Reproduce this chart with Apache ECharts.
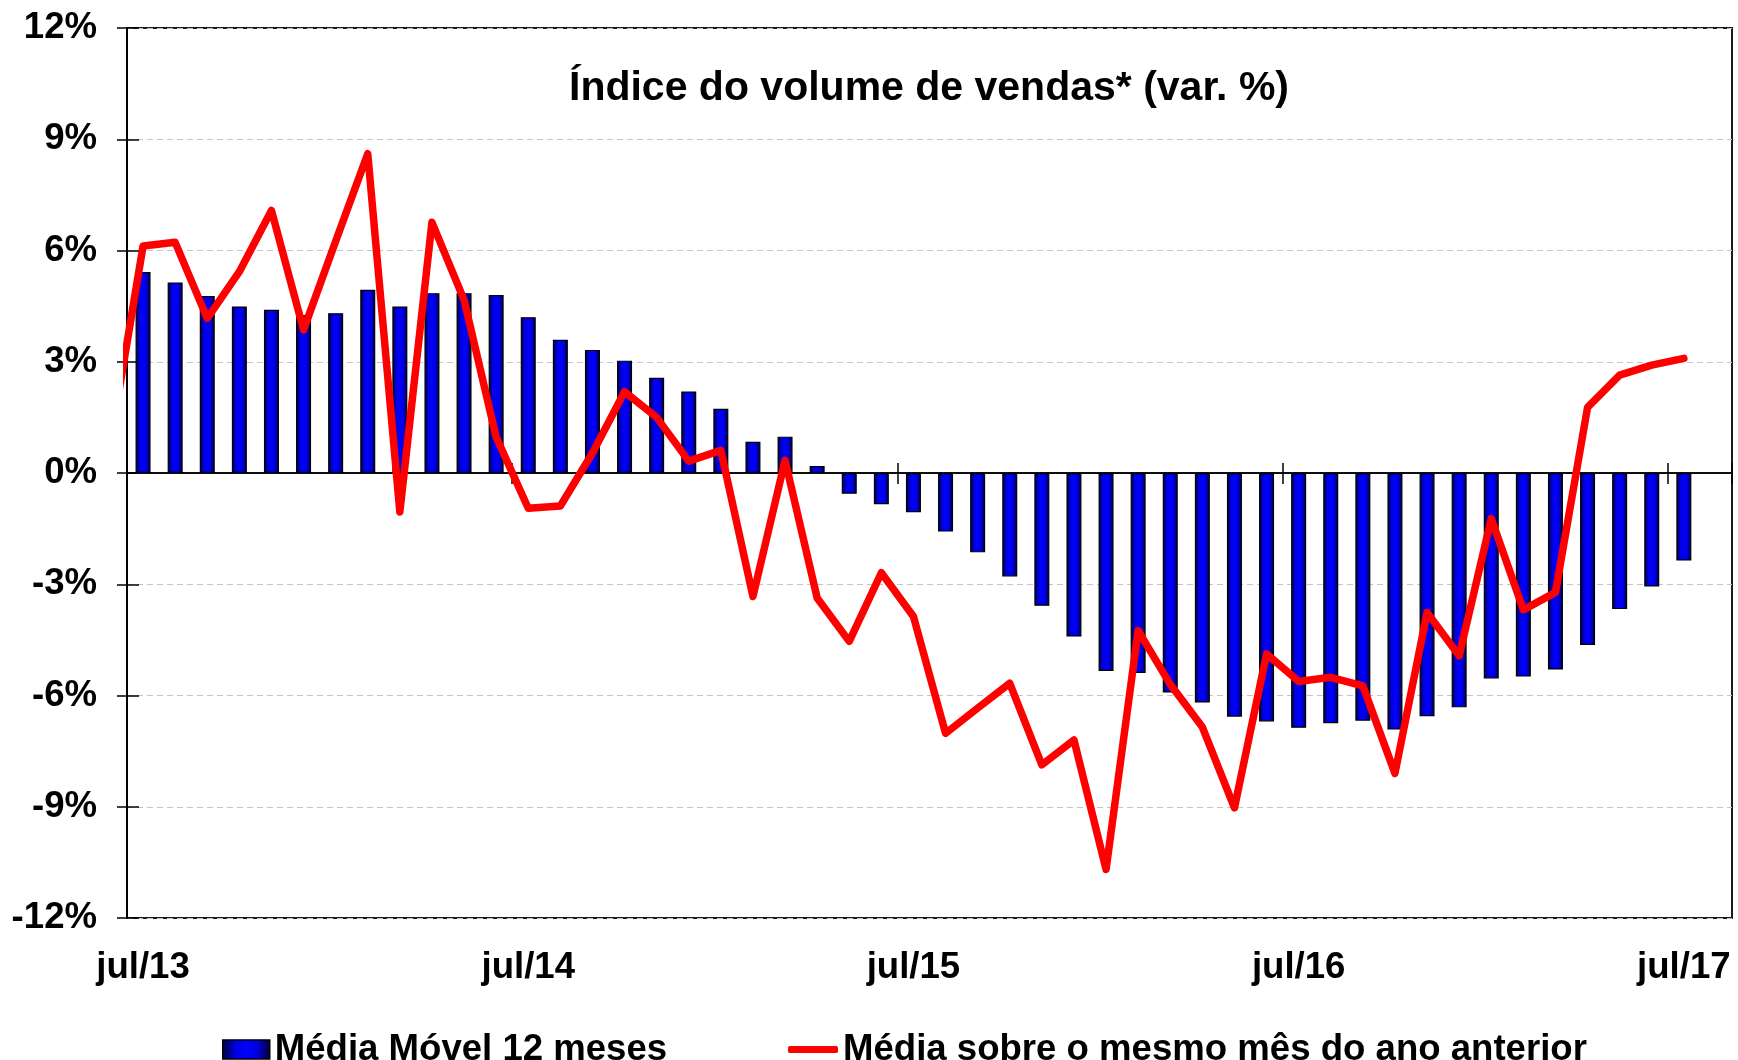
<!DOCTYPE html>
<html>
<head>
<meta charset="utf-8">
<script src="https://cdn.jsdelivr.net/npm/echarts@6/dist/echarts.min.js"></script>
<style>
html,body{margin:0;padding:0;background:#fff;}
#c{width:1738px;height:1060px;}
</style>
</head>
<body>
<div id="c"></div>
<script>
// Categories: jul/13 .. jul/17 plus one empty trailing month (ago/17)
const months = [
 'jul/13','ago/13','set/13','out/13','nov/13','dez/13','jan/14','fev/14','mar/14','abr/14','mai/14','jun/14',
 'jul/14','ago/14','set/14','out/14','nov/14','dez/14','jan/15','fev/15','mar/15','abr/15','mai/15','jun/15',
 'jul/15','ago/15','set/15','out/15','nov/15','dez/15','jan/16','fev/16','mar/16','abr/16','mai/16','jun/16',
 'jul/16','ago/16','set/16','out/16','nov/16','dez/16','jan/17','fev/17','mar/17','abr/17','mai/17','jun/17',
 'jul/17','ago/17'
];

// Média Móvel 12 meses (%)
const movingAvg = [
 5.42, 5.14, 4.77, 4.49, 4.40, 4.26, 4.31, 4.94, 4.49, 4.85, 4.85, 4.80,
 4.20, 3.59, 3.32, 3.03, 2.57, 2.20, 1.73, 0.84, 0.98, 0.19, -0.56, -0.84,
 -1.06, -1.58, -2.14, -2.79, -3.58, -4.41, -5.34, -5.39, -5.92, -6.19, -6.57, -6.70,
 -6.87, -6.75, -6.68, -6.92, -6.56, -6.32, -5.54, -5.49, -5.30, -4.64, -3.67, -3.06,
 -2.36, null
];

// Média sobre o mesmo mês do ano anterior (%), starting jun/13 (clipped at the axis)
const yoyStartIndex = -1;
const yoy = [
 0.90,
 6.12, 6.22, 4.17, 5.43, 7.08, 3.86, 6.25, 8.61, -1.05, 6.76, 4.67, 0.97,
 -0.95, -0.89, 0.54, 2.19, 1.50, 0.32, 0.61, -3.33, 0.34, -3.37, -4.54, -2.69,
 -3.87, -7.02, -6.34, -5.67, -7.87, -7.20, -10.69, -4.25, -5.70, -6.85, -9.03, -4.88,
 -5.62, -5.51, -5.74, -8.10, -3.76, -4.93, -1.23, -3.69, -3.22, 1.77, 2.64, 2.91,
 3.09
];

const yMin = -12, yMax = 12, yStep = 3;
const titleText = 'Índice do volume de vendas* (var. %)';
const seriesNames = ['Média Móvel 12 meses', 'Média sobre o mesmo mês do ano anterior'];

const FONT = "'Liberation Sans', Arial, Helvetica, sans-serif";
const FS = 36.6;
const barGradient = new echarts.graphic.LinearGradient(0, 0, 1, 0, [
  {offset: 0, color: '#000030'},
  {offset: 0.28, color: '#0000e0'},
  {offset: 0.5, color: '#0000ff'},
  {offset: 0.72, color: '#0000e0'},
  {offset: 1, color: '#000030'}
]);

const chart = echarts.init(document.getElementById('c'), null, {renderer: 'canvas'});

const yoyData = yoy.map((v, i) => [i + yoyStartIndex, v]);

const yCommon = {type: 'value', min: yMin, max: yMax, interval: yStep, position: 'left'};

chart.setOption({
  animation: false,
  backgroundColor: '#ffffff',
  grid: {
    left: 127, right: 6, top: 28, bottom: 142,
    show: true, borderColor: '#1a1a1a', borderWidth: 2, backgroundColor: 'transparent'
  },
  graphic: [{
    type: 'text', x: 929, y: 89, z: 100,
    style: {
      text: titleText, fontFamily: FONT, fontWeight: 'bold', fontSize: 41,
      fill: '#000', textAlign: 'center', textVerticalAlign: 'middle'
    }
  }],
  legend: [{
    data: [seriesNames[0]], left: 217, top: 1026,
    itemWidth: 47, itemHeight: 19, icon: 'rect', itemGap: 0,
    itemStyle: {borderColor: '#000', borderWidth: 1.5},
    textStyle: {fontFamily: FONT, fontWeight: 'bold', fontSize: FS, color: '#000', lineHeight: 37},
    selectedMode: false
  }, {
    data: [seriesNames[1]], left: 783, top: 1026,
    itemWidth: 50, itemHeight: 7, icon: 'roundRect', itemGap: 0,
    textStyle: {fontFamily: FONT, fontWeight: 'bold', fontSize: FS, color: '#000', lineHeight: 37},
    selectedMode: false
  }],
  xAxis: [{
    type: 'category', data: months, position: 'bottom', boundaryGap: true,
    axisLine: {show: false, onZero: false},
    axisTick: {show: false},
    splitLine: {show: false},
    axisLabel: {
      interval: 11, margin: 31, color: '#000',
      fontFamily: FONT, fontWeight: 'bold', fontSize: FS
    }
  }, {
    type: 'category', data: months, position: 'bottom', boundaryGap: true,
    axisLine: {show: true, onZero: true, onZeroAxisIndex: 0, lineStyle: {color: '#000', width: 1.5}},
    axisTick: {show: true, interval: 11, length: 11, inside: false, lineStyle: {color: '#000', width: 1.5}},
    axisLabel: {show: false}, splitLine: {show: false}
  }, {
    type: 'category', data: months, position: 'bottom', boundaryGap: true,
    axisLine: {show: true, onZero: true, onZeroAxisIndex: 1, lineStyle: {color: '#000', width: 1.5}},
    axisTick: {show: true, interval: 11, length: 10, inside: true, lineStyle: {color: '#000', width: 1.5}},
    axisLabel: {show: false}, splitLine: {show: false}
  }, {
    type: 'value', min: -0.5, max: months.length - 0.5, show: false,
    axisLine: {onZero: false},
    splitLine: {show: false}
  }],
  yAxis: [Object.assign({}, yCommon, {
    axisLine: {show: true, onZero: false, lineStyle: {color: '#000', width: 1.5}},
    axisTick: {show: true, length: 10, inside: false, lineStyle: {color: '#000', width: 1.5}},
    axisLabel: {
      formatter: '{value}%', margin: 30, color: '#000',
      fontFamily: FONT, fontWeight: 'bold', fontSize: FS
    },
    splitLine: {show: true, lineStyle: {color: '#c4c4c4', width: 1.2, type: [6, 4]}}
  }), Object.assign({}, yCommon, {
    axisLine: {show: true, onZero: false, lineStyle: {color: '#000', width: 1.5}},
    axisTick: {show: true, length: 12, inside: true, lineStyle: {color: '#000', width: 1.5}},
    axisLabel: {show: false},
    splitLine: {show: false}
  })],
  series: [{
    name: seriesNames[0], type: 'bar', xAxisIndex: 0, yAxisIndex: 0,
    data: movingAvg, barWidth: 15, z: 2,
    itemStyle: {color: barGradient, borderColor: '#000', borderWidth: 1.2}
  }, {
    name: seriesNames[1], type: 'line', xAxisIndex: 3, yAxisIndex: 0,
    data: yoyData, showSymbol: false, symbol: 'none', clip: true, z: 5,
    itemStyle: {color: '#ff0000'},
    lineStyle: {color: '#ff0000', width: 7.5, cap: 'round', join: 'round'}
  }]
});
</script>
</body>
</html>
